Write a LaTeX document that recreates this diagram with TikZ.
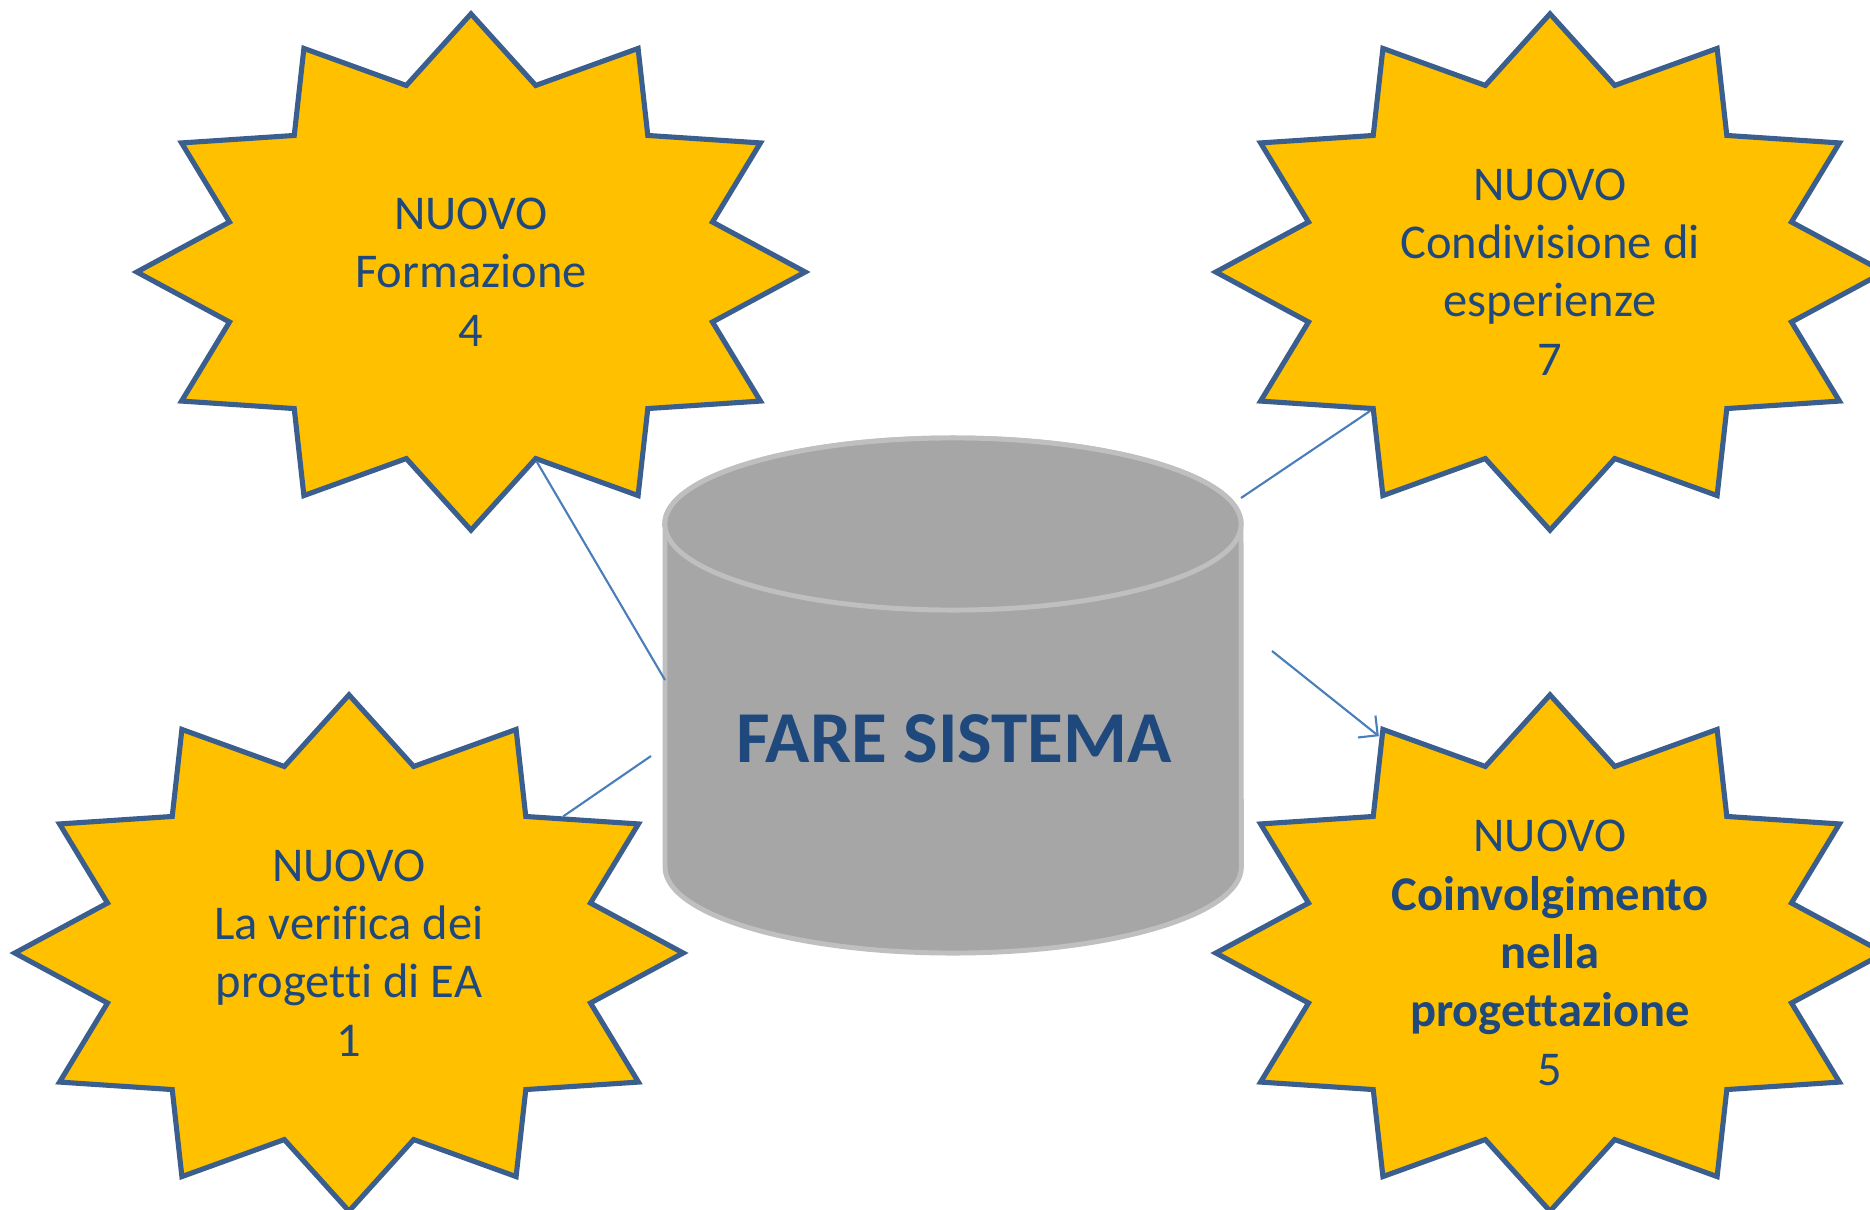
\documentclass[tikz,border=0pt]{standalone}
\usepackage{fontspec}
\setmainfont{Carlito}[Ligatures=NoCommon]
\usetikzlibrary{shapes.geometric,arrows.meta,calc}
\definecolor{sunfill}{HTML}{FFC000}
\definecolor{sunline}{HTML}{3A5F8E}
\definecolor{inkblue}{HTML}{1F497D}
\definecolor{linkblue}{HTML}{4A7EBB}
\definecolor{dbfill}{HTML}{A6A6A6}
\definecolor{dbline}{HTML}{BFBFBF}

\begin{document}
\begin{tikzpicture}[x=0.01cm, y=-0.01cm]
\tikzset{sun/.style={star, star points=12, star point ratio=1.337, minimum size=5.16cm, inner sep=0pt, xscale=1.2946, fill=sunfill, draw=sunline, line width=1.45pt},
  sunlabel/.style={align=center, text=inkblue, font=\fontsize{13.8}{16.6}\selectfont},
  db/.style={fill=dbfill, draw=dbline, line width=1.4pt},
  link/.style={draw=linkblue, line width=0.6pt}}
\useasboundingbox (0,0) rectangle (1870,1209);
\clip (0,0) rectangle (1870,1209);
% the four stars
\node[sun] (f4) at (471,272) {};
\node[sun] (c7) at (1550,272) {};
\node[sun] (v1) at (349,953) {};
\node[sun] (p5) at (1550,953) {};
\node[sunlabel] (tf4) at (f4.center) {NUOVO\\Formazione\\4};
\node[sunlabel] (tc7) at (c7.center) {NUOVO\\Condivisione di\\esperienze\\7};
\node[sunlabel] (tv1) at (v1.center) {NUOVO\\La verifica dei\\progetti di EA\\1};
\node[sunlabel] (tp5) at (p5.center) {NUOVO\\\textbf{Coinvolgimento}\\\textbf{nella}\\\textbf{progettazione}\\5};
% the database
\path[db] (665,524) -- (665,867) arc[start angle=180, end angle=360, x radius=2.88cm, y radius=0.86cm]
  -- (1241,524) arc[start angle=0, end angle=180, x radius=2.88cm, y radius=0.86cm] -- cycle;
\path[db] (953,524) ellipse[x radius=2.88cm, y radius=0.86cm];
\node[text=inkblue, font=\fontsize{20.8}{25}\selectfont\bfseries] (fs) at (954,739) {FARE SISTEMA};
% links
\coordinate (dbw) at (665,680);
\coordinate (dbne) at (1241,498);
\coordinate (a2) at (651,756);
\coordinate (a4) at (1272,651);
\draw[link] (f4.inner point 7) -- (dbw);
\draw[link] (a2) -- ($(v1.inner point 11)!0.3!(v1.outer point 11)$);
\draw[link] (dbne) -- (c7.inner point 5);
\draw[link, -{Straight Barb[length=1.4mm, width=2.8mm]}] (a4) -- ($(p5.outer point 2)!0.12!(p5.inner point 2)$);
\end{tikzpicture}
\end{document}
